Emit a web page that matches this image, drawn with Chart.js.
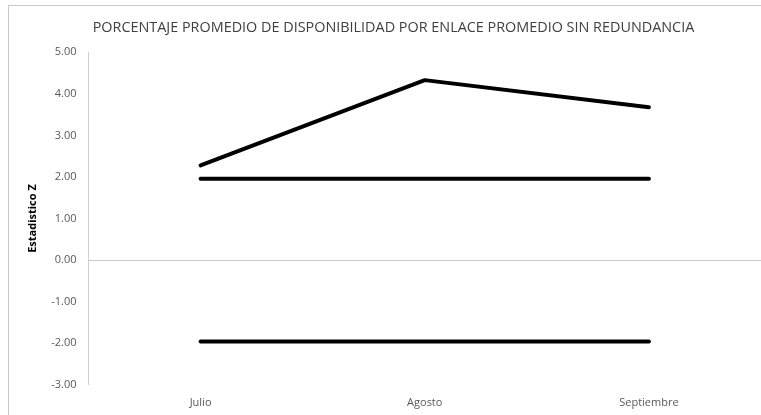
<!DOCTYPE html>
<html>
<head>
<meta charset="utf-8">
<script src="https://cdn.jsdelivr.net/npm/chart.js@4"></script>
<style>
  html, body { margin: 0; padding: 0; background: #fff; }
  #frame {
    position: absolute; left: 8px; top: 5px;
    width: 760px; height: 420px;
    border-left: 1px solid #c8c8c8; border-top: 1px solid #c8c8c8;
    box-sizing: border-box;
  }
  #wrap { position: absolute; left: 0; top: 0; width: 761px; height: 415px; }
</style>
</head>
<body>
<div id="frame"></div>
<div id="wrap"><canvas id="z-chart"></canvas></div>
<script>
/* chart data */
const months = ['Julio', 'Agosto', 'Septiembre'];
const zValues = [2.28, 4.33, 3.68];
const upperLimit = [1.96, 1.96, 1.96];
const lowerLimit = [-1.96, -1.96, -1.96];
const yTicks = [-3, -2, -1, 0, 1, 2, 3, 4, 5];

const lineStyle = {
    borderColor: '#000',
    borderWidth: 4,
    borderCapStyle: 'round',
    borderJoinStyle: 'round',
    pointRadius: 0,
    tension: 0,
    fill: false
};

document.addEventListener('DOMContentLoaded', function() {
    const ctx = document.getElementById('z-chart').getContext('2d');
    new Chart(ctx, {
        type: 'line',
        data: {
            labels: months,
            datasets: [
                Object.assign({ label: 'Z', data: zValues }, lineStyle),
                Object.assign({ label: 'Límite superior', data: upperLimit }, lineStyle),
                Object.assign({ label: 'Límite inferior', data: lowerLimit }, lineStyle)
            ]
        },
        options: {
            responsive: true,
            maintainAspectRatio: false,
            animation: false,
            layout: { padding: { left: 26, right: 0, top: 10, bottom: 3 } },
            plugins: {
                legend: { display: false },
                tooltip: { enabled: false },
                title: {
                    display: true,
                    text: 'PORCENTAJE PROMEDIO DE DISPONIBILIDAD POR ENLACE PROMEDIO SIN REDUNDANCIA',
                    color: '#404040',
                    font: { family: 'Open Sans', size: 14.4, weight: 'normal' },
                    padding: { top: 9, bottom: 16 }
                }
            },
            scales: {
                x: {
                    offset: true,
                    grid: { display: false },
                    border: { display: false },
                    ticks: {
                        color: '#595959',
                        font: { family: 'Open Sans', size: 11 },
                        padding: 3
                    }
                },
                y: {
                    min: -3,
                    max: 5,
                    afterBuildTicks: function(axis) {
                        axis.ticks = yTicks.map(v => ({ value: v }));
                    },
                    grid: {
                        drawTicks: false,
                        color: c => c.tick && c.tick.value === 0 ? '#c8c8c8' : 'rgba(0,0,0,0)',
                        lineWidth: 1
                    },
                    border: { display: true, color: '#d0d0d0', width: 1 },
                    ticks: {
                        color: '#595959',
                        font: { family: 'Open Sans', size: 11 },
                        padding: 12,
                        callback: v => v.toFixed(2)
                    },
                    title: {
                        display: true,
                        text: 'Estadistico Z',
                        color: '#000',
                        font: { family: 'Open Sans', size: 11, weight: 'bold' },
                        padding: { top: 0, bottom: 0 }
                    }
                }
            }
        }
    });
});
</script>
</body>
</html>
